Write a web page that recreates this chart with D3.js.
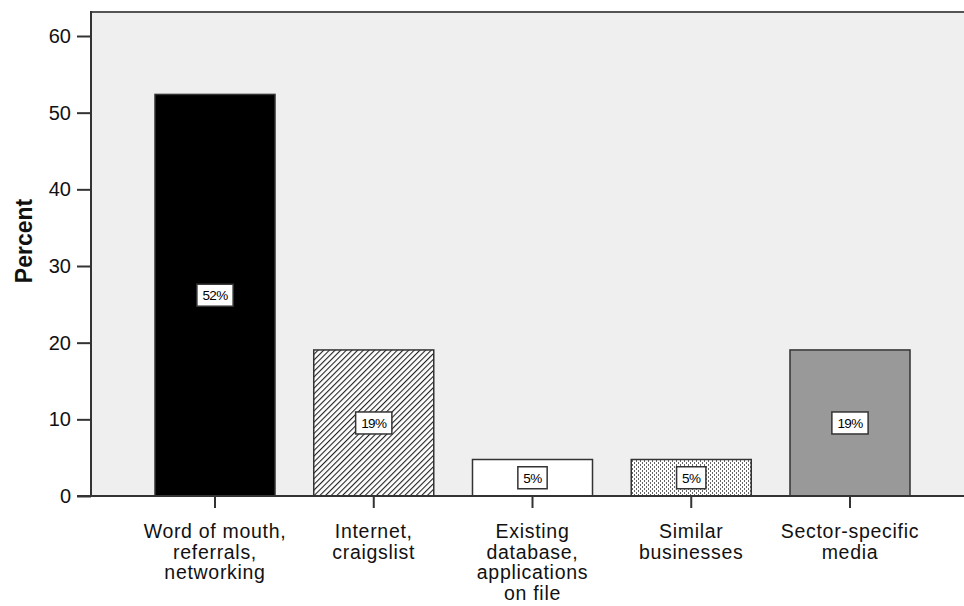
<!DOCTYPE html>
<html>
<head>
<meta charset="utf-8">
<script src="https://cdn.jsdelivr.net/npm/d3@7"></script>
<style>
  html, body { margin: 0; padding: 0; background: #ffffff; }
  svg { display: block; }
  text { font-family: "Liberation Sans", Arial, sans-serif; fill: #111; }
</style>
</head>
<body>
<svg id="chart" width="964" height="606"></svg>
<script>
// ---- data ----
const categories = [
  ["Word of mouth,", "referrals,", "networking"],
  ["Internet,", "craigslist"],
  ["Existing", "database,", "applications", "on file"],
  ["Similar", "businesses"],
  ["Sector-specific", "media"]
];
const values = [52.38, 19.05, 4.76, 4.76, 19.05];
const valueLabels = ["52%", "19%", "5%", "5%", "19%"];
const yTicks = [0, 10, 20, 30, 40, 50, 60];
const fills = ["solid-black", "hatch", "white", "dots", "solid-gray"];

// ---- layout ----
const svg = d3.select("#chart");
const plot = { left: 91, right: 964, top: 12, bottom: 496 };

const keys = categories.map((c, i) => "c" + i);
const x = d3.scaleBand()
  .domain(keys)
  .range([155, 910])
  .paddingInner(0.244)
  .paddingOuter(0);

const y = d3.scaleLinear().domain([0, 60]).range([plot.bottom, 36]);

// defs / patterns
const defs = svg.append("defs");
const hatch = defs.append("pattern")
  .attr("id", "hatch")
  .attr("patternUnits", "userSpaceOnUse")
  .attr("width", 4).attr("height", 4)
  .attr("patternTransform", "rotate(45)");
hatch.append("rect").attr("width", 4).attr("height", 4).attr("fill", "#ffffff");
hatch.append("line").attr("x1", 0).attr("y1", 0).attr("x2", 0).attr("y2", 4)
  .attr("stroke", "#222").attr("stroke-width", 2.2);

const dots = defs.append("pattern")
  .attr("id", "dots")
  .attr("patternUnits", "userSpaceOnUse")
  .attr("width", 4).attr("height", 4);
dots.append("rect").attr("width", 4).attr("height", 4).attr("fill", "#ffffff");
dots.append("rect").attr("x", 0).attr("y", 0).attr("width", 1).attr("height", 2).attr("fill", "#666");
dots.append("rect").attr("x", 2).attr("y", 2).attr("width", 1).attr("height", 2).attr("fill", "#666");

function fillFor(k) {
  if (k === "solid-black") return "#000000";
  if (k === "solid-gray") return "#999999";
  if (k === "white") return "#ffffff";
  if (k === "hatch") return "url(#hatch)";
  if (k === "dots") return "url(#dots)";
}

// plot background
svg.append("rect")
  .attr("x", plot.left).attr("y", plot.top)
  .attr("width", plot.right - plot.left).attr("height", plot.bottom - plot.top)
  .attr("fill", "#efefef");

// top border
svg.append("line")
  .attr("x1", plot.left).attr("x2", plot.right)
  .attr("y1", plot.top).attr("y2", plot.top)
  .attr("stroke", "#555").attr("stroke-width", 2);

// bars
const bars = svg.append("g");
bars.selectAll("rect")
  .data(values)
  .join("rect")
  .attr("x", (d, i) => x(keys[i]))
  .attr("y", d => y(d))
  .attr("width", x.bandwidth())
  .attr("height", d => y(0) - y(d))
  .attr("fill", (d, i) => fillFor(fills[i]))
  .attr("stroke", "#333")
  .attr("stroke-width", 1.5);

// value label boxes
const lab = svg.append("g");
values.forEach((v, i) => {
  const cx = x(keys[i]) + x.bandwidth() / 2;
  const cy = (y(v) + y(0)) / 2;
  const g = lab.append("g").attr("transform", `translate(${cx},${cy})`);
  const t = g.append("text")
    .attr("text-anchor", "middle")
    .attr("dy", "0.36em")
    .attr("font-size", 13.5)
    .attr("letter-spacing", -0.6)
    .style("fill", "#000")
    .text(valueLabels[i]);
  const bw = t.node().getComputedTextLength() + 11;
  g.insert("rect", "text")
    .attr("x", -bw / 2).attr("y", -11)
    .attr("width", bw).attr("height", 22)
    .attr("fill", "#ffffff")
    .attr("stroke", "#333").attr("stroke-width", 1.5);
});

// y axis
const yAxis = svg.append("g")
  .attr("transform", `translate(${plot.left},0)`)
  .call(d3.axisLeft(y).tickValues(yTicks).tickSize(14).tickPadding(6).tickFormat(d3.format("d")));
yAxis.select(".domain").remove();
yAxis.selectAll(".tick line").attr("stroke", "#333").attr("stroke-width", 2);
yAxis.selectAll(".tick text")
  .attr("font-size", 20)
  .attr("font-family", "'Liberation Sans', Arial, sans-serif")
  .attr("fill", "#111");

svg.append("line")
  .attr("x1", plot.left).attr("x2", plot.left)
  .attr("y1", plot.top - 1).attr("y2", plot.bottom)
  .attr("stroke", "#333").attr("stroke-width", 2);

// x axis
const xAxis = svg.append("g")
  .attr("transform", `translate(0,${plot.bottom})`)
  .call(d3.axisBottom(x).tickSize(12).tickFormat(""));
xAxis.select(".domain").remove();
xAxis.selectAll(".tick line").attr("stroke", "#333").attr("stroke-width", 2);

svg.append("line")
  .attr("x1", plot.left - 14).attr("x2", plot.right)
  .attr("y1", plot.bottom).attr("y2", plot.bottom)
  .attr("stroke", "#333").attr("stroke-width", 2);

// category labels
const catG = svg.append("g");
categories.forEach((lines, i) => {
  const cx = x(keys[i]) + x.bandwidth() / 2;
  const t = catG.append("text")
    .attr("text-anchor", "middle")
    .attr("font-size", 19.5)
    .attr("letter-spacing", 0.7)
    .attr("x", cx).attr("y", 538);
  lines.forEach((ln, j) => {
    t.append("tspan").attr("x", cx).attr("dy", j === 0 ? 0 : 20.7).text(ln);
  });
});

// y title
svg.append("text")
  .attr("transform", `translate(32,241) rotate(-90)`)
  .attr("text-anchor", "middle")
  .attr("font-size", 23)
  .attr("font-weight", "bold")
  .text("Percent");
</script>
</body>
</html>
